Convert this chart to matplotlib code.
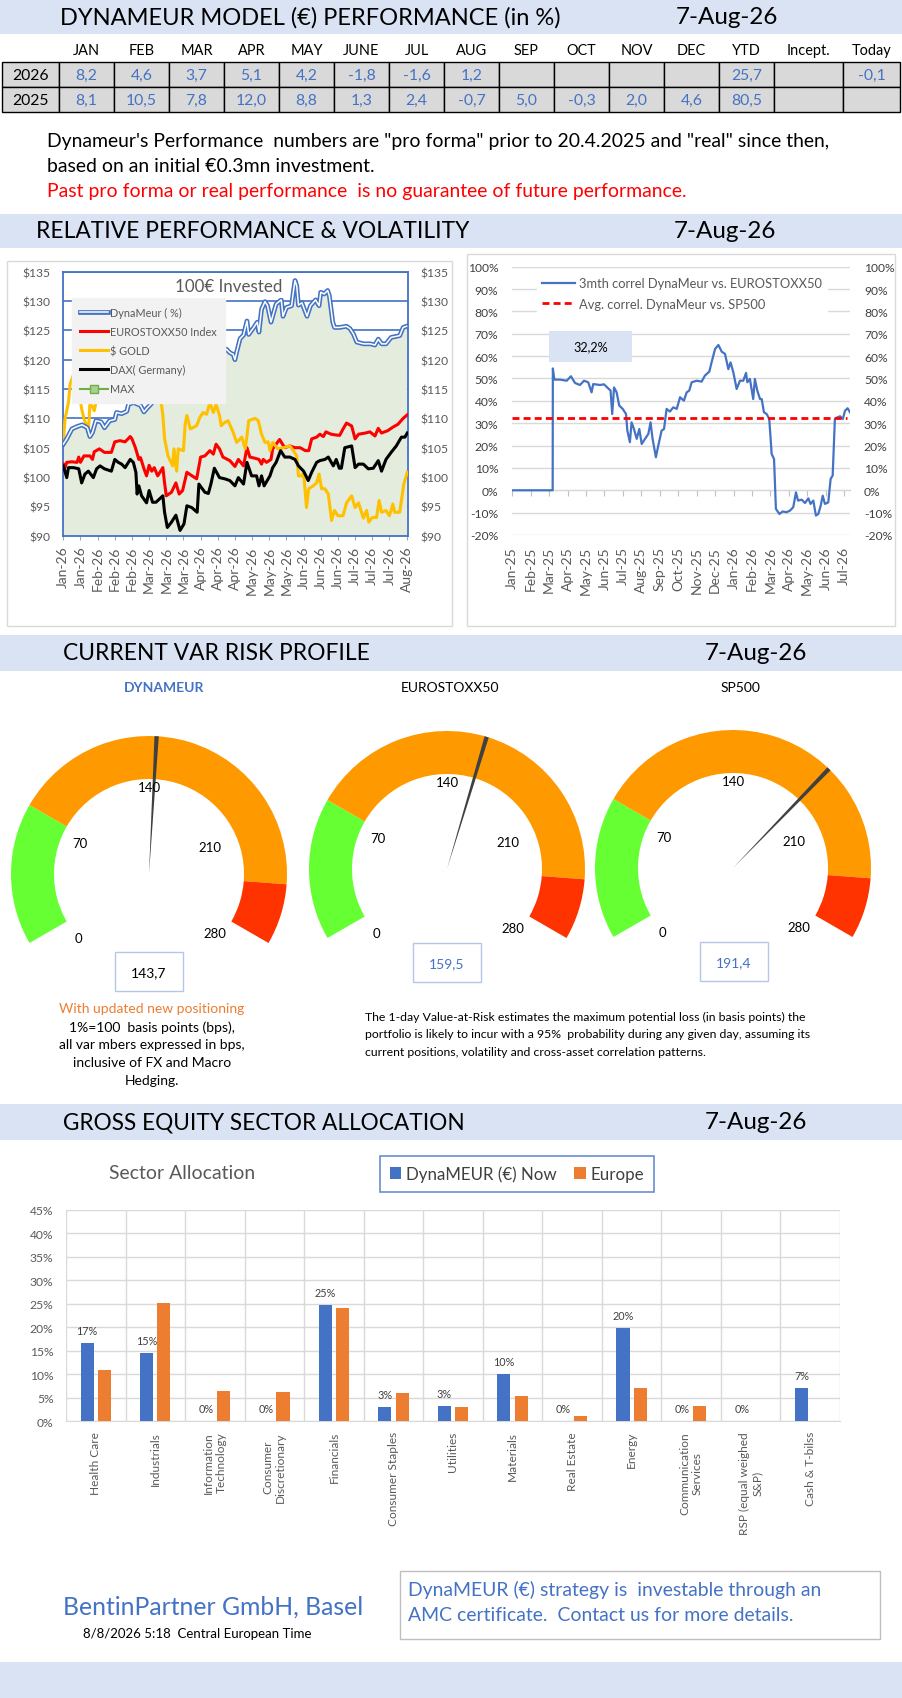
import numpy as np
import matplotlib
matplotlib.use('Agg')
import matplotlib.pyplot as plt
import matplotlib.patheffects as pe
from matplotlib.patches import Rectangle, Wedge
from matplotlib.lines import Line2D
from matplotlib import font_manager

# ---------------- data ----------------
as_of = '7-Aug-26'
perf_cols = ['JAN', 'FEB', 'MAR', 'APR', 'MAY', 'JUNE', 'JUL', 'AUG', 'SEP', 'OCT',
             'NOV', 'DEC', 'YTD', 'Incept.', 'Today']
perf_2026 = [8.2, 4.6, 3.7, 5.1, 4.2, -1.8, -1.6, 1.2, None, None, None, None, 25.7, None, -0.1]
perf_2025 = [8.1, 10.5, 7.8, 12.0, 8.8, 1.3, 2.4, -0.7, 5.0, -0.3, 2.0, 4.6, 80.5, None, None]

# 100 EUR invested, (trading-day index, value)
dyn_pts = [(0, 105.6), (2, 106.5), (5, 108.2), (8, 108.6), (11, 108.9), (14, 108.4), (15.5, 106.9),
           (17, 107.6), (19, 109.6), (22, 109.4), (24, 108.4), (25, 108.8), (27, 109.6), (30, 109.8),
           (31, 111.0), (34, 110.8), (37, 111.2), (38, 112.4), (41, 112.7), (45, 112.2), (47, 111.1),
           (49, 111.8), (51, 112.4), (54, 113.5), (58, 114.6), (62, 115.2), (66, 116.3), (70, 117.0),
           (74, 117.8), (78, 118.6), (82, 119.2), (86, 119.8), (90, 120.5), (93, 121.2), (95, 121.8),
           (97, 121.2), (99, 120.9), (100, 120.0), (101, 121.3), (103, 123.6), (105, 124.2),
           (107, 126.6), (108, 124.3), (111, 125.5), (113, 126.4), (114, 124.7), (115.5, 128.6),
           (117.5, 129.9), (119, 129.2), (121, 126.4), (124, 129.5), (127, 130.2), (128, 127.4),
           (130, 128.9), (133, 129.2), (134, 131.5), (135, 133.5), (136, 132.6), (137, 129.3),
           (139, 129.7), (142, 127.4), (144, 129.2), (147, 130.2), (149, 129.2), (150, 131.5),
           (152, 131.2), (154, 131.8), (155, 130.9), (157, 126.4), (158, 125.5), (161, 125.5),
           (165, 125.7), (167, 125.3), (169, 124.4), (171, 123.0), (175, 122.7), (179, 122.7),
           (181.5, 122.5), (183.5, 123.5), (185.5, 122.7), (188, 122.7), (191, 123.8), (196, 124.1),
           (198, 125.5), (200, 125.7)]
eu_pts = [(0, 102.2), (1, 101.6), (2, 102.5), (5, 102.6), (8, 102.5), (9, 103.4), (10, 102.5),
          (12, 103.6), (15.5, 103.6), (17, 103.0), (18, 104.3), (21, 104.8), (24, 104.2), (28, 104.2),
          (30, 106.0), (33, 106.2), (36, 106.0), (39, 106.9), (40, 106.5), (42, 105.0), (44, 103.0),
          (45, 103.3), (47, 101.4), (48.5, 100.2), (50, 102.0), (51.5, 101.0), (53, 101.6), (55, 100.2),
          (58, 101.6), (59, 99.0), (60, 96.8), (63, 97.4), (65.6, 99.0), (67.5, 97.1), (69.5, 97.7),
          (72, 100.8), (75, 100.2), (77.7, 99.7), (80, 103.4), (82.5, 103.6), (85.4, 104.5),
          (87.4, 103.9), (89, 105.6), (91, 104.8), (93, 103.4), (97, 102.8), (100, 101.8), (102, 103.0),
          (105, 101.9), (107, 105.0), (108.7, 103.4), (111.7, 103.2), (114, 103.0), (115.5, 102.2),
          (116.5, 103.0), (118.4, 102.5), (121, 103.0), (122, 104.8), (126, 106.4), (129, 105.0),
          (132, 105.3), (135, 105.0), (138, 105.0), (141, 104.5), (143, 104.5), (144.7, 106.5),
          (147.6, 106.8), (149.5, 107.3), (151.5, 106.9), (153, 107.7), (156, 107.3), (158, 107.2),
          (161, 107.1), (163, 108.2), (165, 109.2), (168, 108.7), (170, 106.5), (172, 107.3),
          (176, 107.5), (178.6, 107.7), (181.6, 107.0), (183.5, 108.3), (185.4, 107.5), (189, 107.9),
          (192, 108.5), (195, 109.0), (198, 110.0), (200.4, 110.6)]
gold_pts = [(0, 105.9), (1, 109.9), (3, 112.7), (4, 115.9), (6, 117.5), (8, 116.0), (10, 113.0),
            (10.7, 111.6), (12, 110.0), (13.6, 108.75), (14.6, 107.5), (15.5, 112.5), (17, 112.0),
            (18, 111.3), (20, 114.0), (23, 116.0), (27, 117.5), (31, 118.5), (35, 119.0), (39, 120.0),
            (43, 121.0), (47, 120.0), (50, 118.5), (53, 117.0), (56, 115.0), (58, 110.5), (59, 106.5),
            (61, 103.6), (63.7, 101.9), (64.5, 104.8), (66, 101.0), (67, 104.8), (70, 104.5),
            (71, 109.0), (72, 110.5), (74, 108.2), (77.7, 108.75), (79.6, 110.2), (81.5, 111.0),
            (83.5, 110.7), (85.4, 112.7), (87.4, 111.0), (89, 112.4), (91, 110.5), (92, 108.75),
            (94, 109.3), (96, 109.6), (99, 107.6), (101, 105.9), (104, 106.8), (106, 104.8), (107, 107.0),
            (108, 109.6), (111.7, 110.0), (113.6, 109.6), (115.5, 107.3), (117.5, 105.9), (119.4, 106.0),
            (120.4, 104.5), (122, 105.9), (125, 104.8), (128, 105.0), (132, 105.3), (134, 104.5),
            (136, 103.6), (137, 100.2), (139, 100.2), (140, 100.8), (141.7, 94.8), (143, 98.0),
            (145.6, 98.5), (147.6, 99.0), (149, 100.5), (150.5, 98.0), (152.4, 98.0), (154.4, 97.1),
            (156.3, 92.6), (158, 94.3), (160, 93.4), (163, 93.4), (165, 95.6), (168, 96.8), (170, 94.8),
            (172, 95.6), (174.8, 93.0), (176.7, 94.3), (178, 92.3), (180, 93.1), (182.5, 93.1),
            (184, 96.0), (185.4, 94.0), (188, 94.3), (190, 93.4), (192, 95.4), (193, 94.0), (196, 94.0),
            (198.4, 98.8), (200.4, 100.8)]
dax_pts = [(0, 101.9), (2, 99.9), (3, 101.6), (6, 101.6), (9, 101.4), (10.7, 99.0), (12.6, 100.5),
           (14.6, 101.0), (17.5, 99.9), (19.4, 101.4), (21.4, 101.9), (24, 101.4), (28, 101.0),
           (30, 103.0), (32, 102.5), (34, 102.2), (36, 101.6), (39, 103.0), (40.8, 102.5), (42.3, 100.8),
           (43, 97.1), (44, 98.5), (45.6, 96.8), (48.5, 95.6), (50, 97.7), (52, 95.7), (54, 95.7),
           (58, 96.8), (59, 94.0), (60.6, 91.4), (63, 92.3), (65.6, 93.5), (68, 90.9), (70.3, 92.0),
           (72, 95.1), (74.8, 94.8), (78, 94.0), (79, 98.8), (82.5, 97.4), (84.5, 97.2), (86, 98.8),
           (88, 101.5), (91, 99.9), (94, 99.7), (97, 99.4), (100, 98.5), (102, 99.9), (105, 98.8),
           (107, 102.5), (109.7, 100.2), (112.6, 100.2), (114, 98.5), (115.5, 100.2), (117, 98.5),
           (120.4, 100.2), (122, 101.6), (124, 102.5), (126.6, 104.5), (129, 103.4), (132, 103.4),
           (135, 103.0), (137, 101.9), (140, 101.0), (142.7, 99.4), (144.7, 100.8), (147.6, 102.5),
           (149.5, 102.8), (152.4, 103.0), (154.4, 103.4), (157.3, 101.9), (159, 103.0), (160.8, 101.5),
           (162, 101.5), (164, 105.0), (168, 105.3), (170, 101.6), (172, 102.2), (174.8, 102.2),
           (177.7, 101.4), (180.6, 101.5), (183.5, 102.8), (185.4, 101.0), (188, 103.0), (191, 104.2),
           (194, 105.3), (197, 106.8), (199, 106.8), (200.4, 107.5)]
perf_ticks = ['Jan-26', 'Jan-26', 'Feb-26', 'Feb-26', 'Feb-26', 'Mar-26', 'Mar-26', 'Mar-26',
              'Apr-26', 'Apr-26', 'Apr-26', 'May-26', 'May-26', 'May-26', 'Jun-26', 'Jun-26',
              'Jun-26', 'Jul-26', 'Jul-26', 'Jul-26', 'Aug-26']

# 3 month correlation, (months since Jan-25, %)
corr_pts = [(0, 0), (2.19, 0), (2.2, 54.5), (2.28, 49.5), (2.59, 49.5), (2.95, 49), (3.18, 51),
            (3.4, 48), (3.67, 47.1), (3.89, 49), (4.12, 48.3), (4.3, 43.8), (4.39, 47.5), (4.76, 47.1),
            (4.97, 47.4), (5.2, 45.6), (5.33, 44.6), (5.42, 34.1), (5.52, 46), (5.66, 43.8), (5.8, 37.9),
            (5.99, 36.4), (6.17, 34.1), (6.24, 26.7), (6.38, 21.5), (6.47, 30.4), (6.6, 27.4),
            (6.75, 23), (6.89, 27.4), (7.02, 20.7), (7.2, 23), (7.38, 25.2), (7.5, 30.4), (7.61, 23),
            (7.79, 14.8), (7.92, 20), (8.1, 26.7), (8.23, 27.4), (8.37, 36.4), (8.55, 35.2),
            (8.73, 37.1), (8.92, 36.4), (9.1, 41.6), (9.31, 40.1), (9.46, 43.8), (9.6, 44.6),
            (9.73, 48.3), (10, 49), (10.27, 48.6), (10.45, 51.3), (10.69, 53.1), (10.81, 57.2),
            (11, 63.2), (11.18, 65), (11.36, 62), (11.54, 61), (11.72, 54.2), (11.84, 57.2),
            (11.99, 52.8), (12.17, 45.3), (12.35, 49), (12.53, 49), (12.68, 52.5), (12.75, 48.3),
            (12.89, 49.8), (13.07, 40.8), (13.16, 49.8), (13.29, 44.6), (13.44, 40.8), (13.53, 40.8),
            (13.65, 34.9), (13.8, 34.1), (13.94, 31.9), (14.07, 16.2), (14.2, 14), (14.3, -8.3),
            (14.49, -10.6), (14.66, -9.5), (14.88, -9.8), (15.06, -9.1), (15.24, -7.6), (15.39, -0.9),
            (15.5, -4.6), (15.7, -4.2), (15.88, -5.7), (16.06, -3.6), (16.18, -6.1), (16.33, -4.6),
            (16.47, -11.3), (16.6, -10.6), (16.73, -6.9), (16.84, -2.4), (16.96, -6.1), (17.14, -5.4),
            (17.27, 5.1), (17.38, 6.6), (17.5, 31.9), (17.63, 32.6), (17.78, 33.1), (17.93, 31.9),
            (18.05, 35.6), (18.19, 36.7), (18.32, 34.9)]
avg_corr = 32.2
corr_ticks = ['Jan-25', 'Feb-25', 'Mar-25', 'Apr-25', 'May-25', 'Jun-25', 'Jul-25', 'Aug-25',
              'Sep-25', 'Oct-25', 'Nov-25', 'Dec-25', 'Jan-26', 'Feb-26', 'Mar-26', 'Apr-26',
              'May-26', 'Jun-26', 'Jul-26']

# VaR gauges (bps)
gauge_names = ['DYNAMEUR', 'EUROSTOXX50', 'SP500']
var_values = [143.7, 159.5, 191.4]
zone_edges = [0, 70, 250, 280]
zone_colors = ['#66FF33', '#FF9900', '#FF3300']
gauge_ticks = [0, 70, 140, 210, 280]

# sector allocation (%)
sectors = ['Health Care', 'Industrials', 'Information\nTechnology', 'Consumer\nDiscretionary',
           'Financials', 'Consumer Staples', 'Utilities', 'Materials', 'Real Estate', 'Energy',
           'Communication\nServices', 'RSP (equal weighed\nS&P)', 'Cash & T-bilss']
dyna_now = [16.7, 14.6, 0, 0, 24.8, 3.1, 3.3, 10.1, 0, 19.9, 0, 0, 7.1]
europe = [10.9, 25.2, 6.5, 6.2, 24.1, 6.0, 3.05, 5.4, 1.1, 7.1, 3.3, 0, 0]

# ---------------- style ----------------
installed = {f.name for f in font_manager.fontManager.ttflist}
if 'Liberation Sans Narrow' in installed:
    BASE, K = 'Liberation Sans Narrow', 1.0
else:
    BASE, K = 'Lato', 0.87
plt.rcParams['font.family'] = [BASE, 'DejaVu Sans']

BLUE = '#4472C4'
ORANGE = '#ED7D31'
GREY = '#595959'
BAND = '#DAE3F3'
W, H = 902, 1699

fig = plt.figure(figsize=(W / 100, H / 100), dpi=100)


def fx(x):
    return x / W


def fy(y):
    return 1 - y / H


def box(x0, y0, x1, y1):
    return [x0 / W, 1 - y1 / H, (x1 - x0) / W, (y1 - y0) / H]


bg = fig.add_axes([0, 0, 1, 1])
bg.set_xlim(0, W)
bg.set_ylim(H, 0)
bg.axis('off')


def txt(x, y, s, size, **kw):
    kw.setdefault('va', 'center')
    return bg.text(x, y, s, fontsize=size * K, **kw)


# header bands
for y0, y1 in [(0, 35), (215, 249), (636, 672), (1105, 1141), (1663, 1699)]:
    bg.add_patch(Rectangle((0, y0), W, y1 - y0, color=BAND, lw=0))
for x, y, s, size, xd in [(60, 18, 'DYNAMEUR MODEL (€) PERFORMANCE (in %)', 19.6, 676),
                          (36, 232, 'RELATIVE PERFORMANCE & VOLATILITY', 18.8, 674),
                          (63, 654, 'CURRENT VAR RISK PROFILE', 18.8, 705),
                          (63, 1123, 'GROSS EQUITY SECTOR ALLOCATION', 18.7, 705)]:
    txt(x, y, s, size)
    txt(xd, y, as_of, 20)

# performance table
col_w = [57] + [55] * 13 + [69, 57]
edges = np.concatenate([[2], 2 + np.cumsum(col_w)])
for j, name in enumerate(perf_cols):
    txt((edges[j + 1] + edges[j + 2]) / 2, 51, name, 12, ha='center')
for r, (label, vals) in enumerate([('2026', perf_2026), ('2025', perf_2025)]):
    y0 = 63 + r * 25
    for j in range(len(edges) - 1):
        bg.add_patch(Rectangle((edges[j], y0), edges[j + 1] - edges[j], 25,
                               fc='#D9D9D9', ec='black', lw=1))
    txt((edges[0] + edges[1]) / 2, y0 + 13, label, 13, ha='center')
    for j, v in enumerate(vals):
        if v is not None:
            txt((edges[j + 1] + edges[j + 2]) / 2, y0 + 13, f'{v:.1f}'.replace('.', ','), 13,
                ha='center', color=BLUE)

txt(47, 142, 'Dynameur\'s Performance  numbers are "pro forma" prior to 20.4.2025 and "real" since then,', 16)
txt(47, 167, 'based on an initial €0.3mn investment.', 16)
txt(47, 192, 'Past pro forma or real performance  is no guarantee of future performance.', 16,
    color='#FF0000')

# ---------------- 100 EUR invested ----------------
bg.add_patch(Rectangle((7, 262), 445, 365, fill=False, ec='#D9D9D9', lw=1))
ax1 = fig.add_axes(box(63.3, 272.7, 408.3, 536.7))
dx, dy = zip(*dyn_pts)
ax1.fill_between(dx, dy, 90, color='#E3ECDD', lw=0, zorder=1)
l_dyn, = ax1.plot(dx, dy, color='white', lw=1.1, zorder=4,
                  path_effects=[pe.Stroke(linewidth=3.4, foreground=BLUE), pe.Normal()])
l_eu, = ax1.plot(*zip(*eu_pts), color='#FF0000', lw=2.2, zorder=3)
l_gold, = ax1.plot(*zip(*gold_pts), color='#FFC000', lw=2.2, zorder=3)
l_dax, = ax1.plot(*zip(*dax_pts), color='black', lw=2.2, zorder=3)
l_max = Line2D([], [], color='#70AD47', lw=1.5, marker='s', ms=6, mfc='#A9D18E', mec='#70AD47')
ax1.set_xlim(0, 201)
ax1.set_ylim(90, 135)
yt = list(range(90, 136, 5))
ax1.set_yticks(yt)
ax1.set_yticklabels([f'${v}' for v in yt])
ax1.set_xticks(np.arange(len(perf_ticks)) * 10)
ax1.set_xticklabels(perf_ticks, rotation=90)
ax1.tick_params(axis='y', length=0, pad=9, labelsize=10 * K, labelcolor=GREY,
                labelleft=True, labelright=True)
ax1.tick_params(axis='x', length=3, pad=4, color='#A6A6A6', labelsize=11.5 * K, labelcolor=GREY)
ax1.grid(axis='y', color=BLUE, lw=1.2)
ax1.set_axisbelow(True)
for s in ax1.spines.values():
    s.set_color(BLUE)
    s.set_linewidth(1.3)
ax1.legend([l_dyn, l_eu, l_gold, l_dax, l_max],
           ['DynaMeur ( %)', 'EUROSTOXX50 Index', '$ GOLD', 'DAX( Germany)', 'MAX'],
           loc='upper left', bbox_to_anchor=(fx(71.7), fy(299)), bbox_transform=fig.transFigure,
           borderaxespad=0, frameon=True, fancybox=False, facecolor='#F2F2F2', edgecolor='#F2F2F2',
           framealpha=1, fontsize=9 * K, labelcolor=GREY, handlelength=2.5, handletextpad=0.2,
           labelspacing=0.75, borderpad=0.8)
fig.text(fx(229), fy(287), '100€ Invested', ha='center', va='center', fontsize=14 * K, color=GREY,
         bbox=dict(fc='white', ec='none', pad=3))

# ---------------- correlation ----------------
bg.add_patch(Rectangle((467, 255), 428, 372, fill=False, ec='#D9D9D9', lw=1))
ax2 = fig.add_axes(box(512.3, 267.7, 850, 536))
cx, cy = zip(*corr_pts)
l_corr, = ax2.plot(cx, cy, color=BLUE, lw=1.6, zorder=3)
l_avg = ax2.axhline(avg_corr, xmin=0, xmax=0.99, color='#FF0000', lw=2, ls=(0, (2.5, 1.5)), zorder=4)
ax2.set_xlim(0, 18.32)
ax2.set_ylim(-20, 100)
pt = list(range(-20, 101, 10))
ax2.set_yticks(pt)
ax2.set_yticklabels([f'{v}%' for v in pt])
ax2.set_xticks(np.arange(len(corr_ticks)))
ax2.set_xticklabels(corr_ticks, rotation=90)
ax2.tick_params(axis='y', length=0, pad=10, labelsize=10 * K, labelcolor='#404040',
                labelleft=True, labelright=True)
ax2.tick_params(axis='x', length=0, pad=8, labelsize=11.5 * K, labelcolor=GREY)
ax2.grid(axis='y', color='#D9D9D9', lw=1)
ax2.set_axisbelow(True)
for s in ax2.spines.values():
    s.set_visible(False)
sec = ax2.secondary_xaxis(20 / 120)
sec.set_xticks(np.arange(len(corr_ticks)))
sec.tick_params(length=4, color='#BFBFBF', labelbottom=False)
sec.spines['bottom'].set_color('#BFBFBF')
ax2.legend([l_corr, l_avg], ['3mth correl DynaMeur vs. EUROSTOXX50', 'Avg. correl. DynaMeur vs. SP500'],
           loc='upper left', bbox_to_anchor=(fx(536.5), fy(273)), bbox_transform=fig.transFigure,
           borderaxespad=0, frameon=True, fancybox=False, facecolor='white', edgecolor='white',
           framealpha=1, fontsize=10.7 * K, labelcolor=GREY, handlelength=2.55, handletextpad=0.33,
           labelspacing=0.65, borderpad=0.4)
fig.add_artist(Rectangle((fx(549.3), fy(362.7)), 82.4 / W, 30.7 / H, transform=fig.transFigure,
                         fc=BAND, ec='none'))
fig.text(fx(590.5), fy(347), f'{avg_corr:.1f}%'.replace('.', ','), ha='center', va='center',
         fontsize=10.5 * K)

# ---------------- VaR gauges ----------------
R, RING = 138, 43
label_r = [0.69, 0.55, 0.63, 0.48, 0.64]


def ang(v):
    return 210 - v / zone_edges[-1] * 240


centres = [(149, 875), (447, 870), (733, 869)]
title_x = [164, 450, 740]
boxes = [(115, 953), (413, 944), (700, 943)]
for k, (gx, gy) in enumerate(centres):
    ax = fig.add_axes(box(gx - 150, gy - 150, gx + 150, gy + 150))
    ax.set_xlim(-150, 150)
    ax.set_ylim(-150, 150)
    ax.axis('off')
    ax.set_facecolor('none')
    for lo, hi, col in zip(zone_edges[:-1], zone_edges[1:], zone_colors):
        ax.add_patch(Wedge((0, 0), R, ang(hi), ang(lo), width=RING, color=col, lw=0))
    a = ang(var_values[k])
    ax.add_patch(Wedge((0, 0), R, a - 0.9, a + 0.9, color='#404040', lw=0))
    for t, lr in zip(gauge_ticks, label_r):
        a = ang(t)
        la = np.radians(a + (a - 90) * 0.1)
        ax.text(lr * R * np.cos(la), lr * R * np.sin(la), str(t), ha='center', va='center',
                fontsize=11 * K)
    bold = k == 0
    txt(title_x[k], 688, gauge_names[k], 11.5, ha='center', color=BLUE if bold else 'black',
        fontweight='bold' if bold else 'normal')
    bx, by = boxes[k]
    bg.add_patch(Rectangle((bx, by), 68, 39, fc='white', ec='#B4C7E7', lw=1))
    txt(bx + 34, by + 20, f'{var_values[k]:.1f}'.replace('.', ','), 11.5, ha='center',
        color='black' if bold else BLUE)

txt(152, 1009, 'With updated new positioning', 11.5, ha='center', color=ORANGE)
for i, line in enumerate(['1%=100  basis points (bps),', 'all var mbers expressed in bps,',
                          'inclusive of FX and Macro', 'Hedging.']):
    txt(152, 1027.7 + i * 17.8, line, 11.5, ha='center')
for i, line in enumerate(['The 1-day Value-at-Risk estimates the maximum potential loss (in basis points) the',
                          'portfolio is likely to incur with a 95%  probability during any given day, assuming its',
                          'current positions, volatility and cross-asset correlation patterns.']):
    txt(365, 1017 + i * 18, line, 10.2)

# ---------------- sector allocation ----------------
txt(109, 1174, 'Sector Allocation', 16, color=GREY)
ax3 = fig.add_axes(box(66, 1211, 840, 1422.3))
x = np.arange(len(sectors))
b1 = ax3.bar(x - 0.145, dyna_now, 0.22, color=BLUE, zorder=3)
b2 = ax3.bar(x + 0.145, europe, 0.22, color=ORANGE, zorder=3)
for xi, v in zip(x, dyna_now):
    ax3.annotate(f'{v:.0f}%', (xi - 0.145, v), xytext=(0, 9), textcoords='offset points',
                 ha='center', va='center', fontsize=9 * K, color='#404040')
ax3.set_xlim(-0.5, len(sectors) - 0.5)
ax3.set_ylim(0, 45)
st = list(range(0, 46, 5))
ax3.set_yticks(st)
ax3.set_yticklabels([f'{v}%' for v in st])
ax3.set_xticks(x)
ax3.set_xticklabels(sectors, rotation=90)
for t in ax3.get_xticklabels():
    t.set_multialignment('center')
ax3.set_xticks(np.arange(-0.5, len(sectors), 1), minor=True)
ax3.tick_params(axis='x', which='both', length=0, pad=7, labelsize=9.8 * K, labelcolor=GREY)
ax3.tick_params(axis='y', length=0, pad=9, labelsize=10 * K, labelcolor=GREY)
ax3.grid(axis='y', color='#D9D9D9', lw=1)
ax3.grid(axis='x', which='minor', color='#D9D9D9', lw=1)
ax3.set_axisbelow(True)
for side in ['left', 'top', 'right']:
    ax3.spines[side].set_visible(False)
ax3.spines['bottom'].set_color('#D9D9D9')
leg = ax3.legend([b1, b2], ['DynaMEUR (€) Now', 'Europe'], loc='center',
                 bbox_to_anchor=(fx(517), fy(1175)), bbox_transform=fig.transFigure, ncol=2,
                 frameon=True, fancybox=False, edgecolor=BLUE, fontsize=14 * K, labelcolor='#404040',
                 handlelength=0.7, handleheight=0.7, handletextpad=0.3, columnspacing=1.0, borderpad=0.55)
leg.get_frame().set_linewidth(1.2)

# ---------------- footer ----------------
txt(63, 1607, 'BentinPartner GmbH, Basel', 20.5, color=BLUE)
txt(83, 1634, '8/8/2026 5:18  Central European Time', 11)
bg.add_patch(Rectangle((400, 1572), 480, 68, fc='white', ec='#BFBFBF', lw=1))
txt(408, 1590, 'DynaMEUR (€) strategy is  investable through an', 16, color=BLUE)
txt(408, 1616, 'AMC certificate.  Contact us for more details.', 16, color=BLUE)

fig.savefig('out.png', dpi=100)
